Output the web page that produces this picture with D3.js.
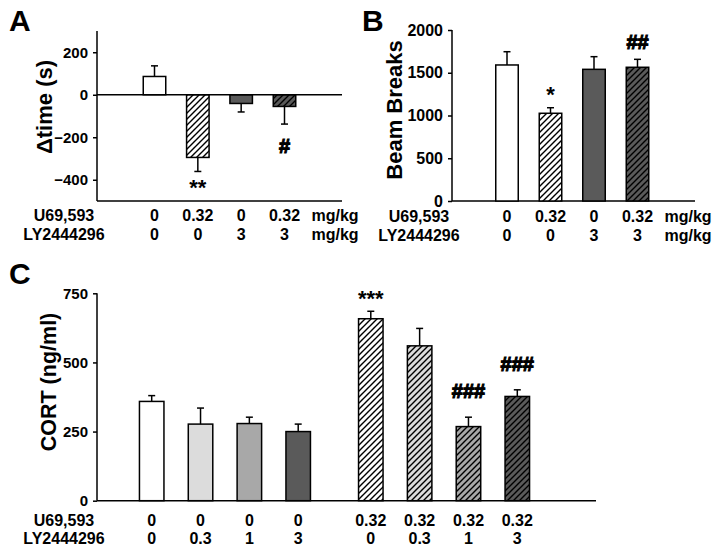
<!DOCTYPE html>
<html>
<head>
<meta charset="utf-8">
<script src="https://cdn.jsdelivr.net/npm/d3@7"></script>
<style>
  html, body { margin: 0; padding: 0; background: #ffffff; }
  svg { display: block; font-family: "Liberation Sans", Arial, sans-serif; font-weight: bold; }
</style>
</head>
<body>
<svg id="chart" width="721" height="554"></svg>
<script>
// ---------------- DATA ----------------
// Panel A: Δtime (s)
const aU69 = ["0", "0.32", "0", "0.32"];
const aLY = ["0", "0", "3", "3"];
const aMean = [86, -295, -41, -55];
const aSem = [50, 66, 40, 83];
const aSig = ["", "**", "", "#"];
const aTicks = [-400, -200, 0, 200];

// Panel B: Beam Breaks
const bU69 = ["0", "0.32", "0", "0.32"];
const bLY = ["0", "0", "3", "3"];
const bMean = [1591, 1026, 1540, 1564];
const bSem = [155, 65, 148, 93];
const bSig = ["", "*", "", "##"];
const bTicks = [0, 500, 1000, 1500, 2000];

// Panel C: CORT (ng/ml)
const cU69 = ["0", "0", "0", "0", "0.32", "0.32", "0.32", "0.32"];
const cLY = ["0", "0.3", "1", "3", "0", "0.3", "1", "3"];
const cMean = [359, 277, 279, 250, 658, 560, 268, 377];
const cSem = [21, 58, 23, 27, 27, 63, 34, 24];
const cSig = ["", "", "", "", "***", "", "###", "###"];
const cTicks = [0, 250, 500, 750];

const rowNames = ["U69,593", "LY2444296"];
const unitLabel = "mg/kg";

// ---------------- STYLE ----------------
const lyFill = d3.scaleOrdinal()
  .domain(["0", "0.3", "1", "3"])
  .range(["#ffffff", "#dcdcdc", "#a8a8a8", "#5a5a5a"]);

const svg = d3.select("#chart");
const defs = svg.append("defs");
lyFill.domain().forEach((k, i) => {
  const p = defs.append("pattern")
    .attr("id", "hatch" + i)
    .attr("patternUnits", "userSpaceOnUse")
    .attr("width", 6).attr("height", 6);
  p.append("rect").attr("width", 6).attr("height", 6).attr("fill", lyFill(k));
  p.append("path")
    .attr("d", "M-1,1 l2,-2 M0,6 l6,-6 M5,7 l2,-2")
    .attr("stroke", "#000").attr("stroke-width", 1.4);
});
function fillFor(u, ly) {
  if (u === "0") return lyFill(ly);
  return "url(#hatch" + lyFill.domain().indexOf(ly) + ")";
}

function drawPanel(cfg) {
  const g = svg.append("g");
  const y = d3.scaleLinear().domain(cfg.domain).range([cfg.bottom, cfg.top]);
  const n = cfg.mean.length;
  const idx = d3.range(n);

  // panel letter
  svg.append("text").attr("x", cfg.letterX).attr("y", cfg.letterY)
    .attr("font-size", 30).text(cfg.letter);

  // y axis
  const ax = g.append("g").attr("transform", `translate(${cfg.axisX},0)`)
    .call(d3.axisLeft(y).tickValues(cfg.ticks).tickSize(4).tickPadding(5).tickFormat(d3.format("d")));
  ax.select(".domain").attr("stroke", "#000").attr("stroke-width", 1.5)
    .attr("d", `M0,${cfg.top}V${cfg.bottom}`);
  ax.selectAll(".tick line").attr("stroke", "#000").attr("stroke-width", 1.5);
  ax.selectAll(".tick text").attr("font-size", cfg.tickFont).attr("font-weight", "bold")
    .attr("font-family", "Liberation Sans, Arial, sans-serif").attr("fill", "#000");

  // y label
  g.append("text")
    .attr("transform", `translate(${cfg.ylabX},${cfg.ylabY}) rotate(-90)`)
    .attr("text-anchor", "middle").attr("font-size", cfg.ylabFont)
    .text(cfg.ylabel);

  // bottom axis line
  g.append("line").attr("x1", cfg.axisX).attr("x2", cfg.right)
    .attr("y1", cfg.bottom).attr("y2", cfg.bottom)
    .attr("stroke", "#000").attr("stroke-width", 1.5);

  const bw = cfg.barWidth;
  const zero = y(0);
  // bars
  g.selectAll("rect.bar").data(idx).join("rect")
    .attr("class", "bar")
    .attr("x", i => cfg.x(i) - bw / 2)
    .attr("y", i => Math.min(y(cfg.mean[i]), zero))
    .attr("width", bw)
    .attr("height", i => Math.abs(y(cfg.mean[i]) - zero))
    .attr("fill", i => fillFor(cfg.u69[i], cfg.ly[i]))
    .attr("stroke", "#000").attr("stroke-width", 1.5);

  // zero line (panel A)
  if (cfg.domain[0] < 0) {
    g.append("line").attr("x1", cfg.axisX).attr("x2", cfg.right)
      .attr("y1", zero).attr("y2", zero)
      .attr("stroke", "#000").attr("stroke-width", 1.5);
  }

  // error bars
  const errEnd = i => y(cfg.mean[i] + Math.sign(cfg.mean[i]) * cfg.sem[i]);
  idx.forEach(i => {
    const cx = cfg.x(i);
    g.append("line").attr("x1", cx).attr("x2", cx)
      .attr("y1", y(cfg.mean[i])).attr("y2", errEnd(i))
      .attr("stroke", "#000").attr("stroke-width", 1.5);
    g.append("line").attr("x1", cx - 3.5).attr("x2", cx + 3.5)
      .attr("y1", errEnd(i)).attr("y2", errEnd(i))
      .attr("stroke", "#000").attr("stroke-width", 1.5);
  });

  // significance marks
  idx.filter(i => cfg.sig[i]).forEach(i => {
    const star = cfg.sig[i].startsWith("*");
    const down = cfg.mean[i] < 0;
    const gap = star ? cfg.starGap : cfg.hashGap;
    g.append("text")
      .attr("x", cfg.x(i))
      .attr("y", errEnd(i) + (down ? gap : -gap))
      .attr("text-anchor", "middle")
      .attr("font-size", star ? 22 : 20)
      .attr("stroke", star ? "none" : "#000")
      .attr("stroke-width", star ? 0 : 1.1)
      .text(cfg.sig[i]);
  });

  // dose rows
  [cfg.u69, cfg.ly].forEach((row, r) => {
    const by = cfg.rowY + r * cfg.rowStep;
    g.append("text").attr("x", cfg.axisX - 33).attr("y", by)
      .attr("text-anchor", "middle").attr("font-size", 16).text(rowNames[r]);
    idx.forEach(i => {
      g.append("text").attr("x", cfg.x(i)).attr("y", by)
        .attr("text-anchor", "middle").attr("font-size", 16).text(row[i]);
    });
    if (cfg.units) {
      g.append("text").attr("x", cfg.x(n - 1) + 27).attr("y", by)
        .attr("font-size", 16).text(unitLabel);
    }
  });
}

// ---------------- PANELS ----------------
const xA = d3.scalePoint().domain(d3.range(aMean.length)).range([154.5, 284.5]);
drawPanel({
  letter: "A", letterX: 9, letterY: 31,
  u69: aU69, ly: aLY, mean: aMean, sem: aSem, sig: aSig, ticks: aTicks,
  domain: [-500, 300], top: 31, bottom: 201, axisX: 97, right: 342,
  x: i => xA(i), barWidth: 22.5, tickFont: 15,
  ylabel: "\u0394time (s)", ylabX: 52, ylabY: 107, ylabFont: 22,
  starGap: 24, hashGap: 29, rowY: 221, rowStep: 18.5, units: true
});

const xB = d3.scalePoint().domain(d3.range(bMean.length)).range([507, 637.5]);
drawPanel({
  letter: "B", letterX: 362, letterY: 31,
  u69: bU69, ly: bLY, mean: bMean, sem: bSem, sig: bSig, ticks: bTicks,
  domain: [0, 2000], top: 30, bottom: 201, axisX: 452, right: 695,
  x: i => xB(i), barWidth: 22.5, tickFont: 16,
  ylabel: "Beam Breaks", ylabX: 402, ylabY: 110, ylabFont: 22,
  starGap: 6, hashGap: 10, rowY: 222, rowStep: 19, units: true
});

const cGroup = d3.scalePoint().domain(["0", "0.32"]).range([151.7, 370.8]);
const cInner = d3.scalePoint().domain(["0", "0.3", "1", "3"]).range([0, 146.5]);
drawPanel({
  letter: "C", letterX: 9, letterY: 284,
  u69: cU69, ly: cLY, mean: cMean, sem: cSem, sig: cSig, ticks: cTicks,
  domain: [0, 750], top: 293.3, bottom: 500.7, axisX: 97, right: 596,
  x: i => cGroup(cU69[i]) + cInner(cLY[i]), barWidth: 24.5, tickFont: 15,
  ylabel: "CORT (ng/ml)", ylabX: 56, ylabY: 382, ylabFont: 21.5,
  starGap: 5, hashGap: 19, rowY: 526, rowStep: 18.3, units: false
});
</script>
</body>
</html>
